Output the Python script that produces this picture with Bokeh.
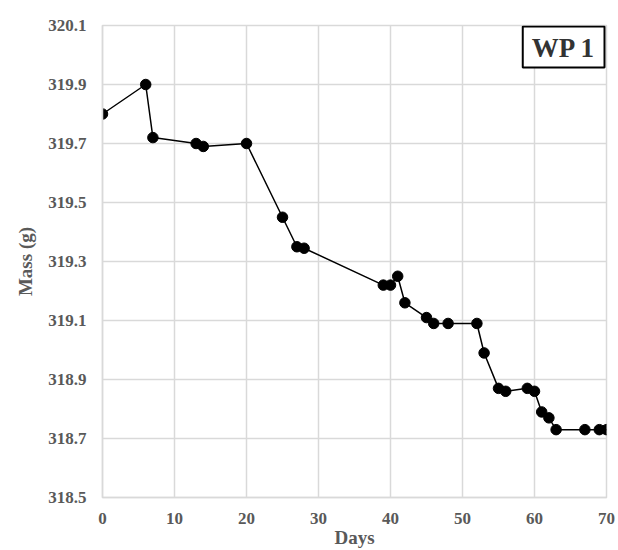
from bokeh.plotting import figure
from bokeh.models import FixedTicker, Range1d, Label, PrintfTickFormatter
from bokeh.embed import file_html
from bokeh.resources import INLINE

# Data
days = [0, 6, 7, 13, 14, 20, 25, 27, 28, 39, 40, 41, 42, 45, 46, 48, 52,
        53, 55, 56, 59, 60, 61, 62, 63, 67, 69, 70]
mass = [319.80, 319.90, 319.72, 319.70, 319.69, 319.70, 319.45, 319.35, 319.345,
        319.22, 319.22, 319.25, 319.16, 319.11, 319.09, 319.09, 319.09,
        318.99, 318.87, 318.86, 318.87, 318.86, 318.79, 318.77, 318.73,
        318.73, 318.73, 318.73]
x_ticks = [0, 10, 20, 30, 40, 50, 60, 70]
y_ticks = [318.5, 318.7, 318.9, 319.1, 319.3, 319.5, 319.7, 319.9, 320.1]
box_text = "WP 1"
x_title = "Days"
y_title = "Mass (g)"

FONT = "Liberation Serif"
GRID = "#d9d9d9"
TXT = "#595959"

p = figure(width=618, height=550, output_backend="svg", toolbar_location=None,
           x_range=Range1d(x_ticks[0], x_ticks[-1]),
           y_range=Range1d(y_ticks[0], y_ticks[-1]),
           min_border_left=102, min_border_right=12, min_border_top=25,
           min_border_bottom=53)
p.background_fill_color = "white"
p.border_fill_color = "white"
p.outline_line_color = GRID
p.outline_line_width = 1.5

p.xaxis.ticker = FixedTicker(ticks=x_ticks)
p.yaxis.ticker = FixedTicker(ticks=y_ticks)
p.yaxis.formatter = PrintfTickFormatter(format="%.1f")

for ax in (p.xaxis[0], p.yaxis[0]):
    ax.axis_line_color = GRID
    ax.axis_line_width = 1.5
    ax.major_tick_line_color = None
    ax.minor_tick_line_color = None
    ax.major_tick_out = 0
    ax.major_tick_in = 0
    ax.major_label_text_font = FONT
    ax.major_label_text_font_size = "17px"
    ax.major_label_text_font_style = "bold"
    ax.major_label_text_color = TXT
    ax.axis_label_text_font = FONT
    ax.axis_label_text_font_size = "19px"
    ax.axis_label_text_font_style = "bold"
    ax.axis_label_text_color = TXT

p.xaxis.axis_label = x_title
p.yaxis.axis_label = y_title
p.xaxis.major_label_standoff = 15
p.xaxis.axis_label_standoff = 0
p.yaxis.major_label_standoff = 16
p.yaxis.axis_label_standoff = 9

p.xgrid.grid_line_color = GRID
p.ygrid.grid_line_color = GRID
p.xgrid.grid_line_width = 1.5
p.ygrid.grid_line_width = 1.5

p.line(days, mass, line_color="black", line_width=1.5)
p.scatter(days, mass, size=10.5, fill_color="black", line_color="black")

lab = Label(x=x_ticks[-1], y=y_ticks[-1], x_offset=-2, y_offset=-1,
            text=box_text, text_align="right", text_baseline="top",
            text_font=FONT, text_font_size="27px", text_font_style="bold",
            text_color="#333333", background_fill_color="white",
            border_line_color="black", border_line_width=2,
            padding=dict(left=9, right=9, top=6, bottom=5))
p.add_layout(lab)

open("out.html", "w").write(file_html(p, INLINE))
